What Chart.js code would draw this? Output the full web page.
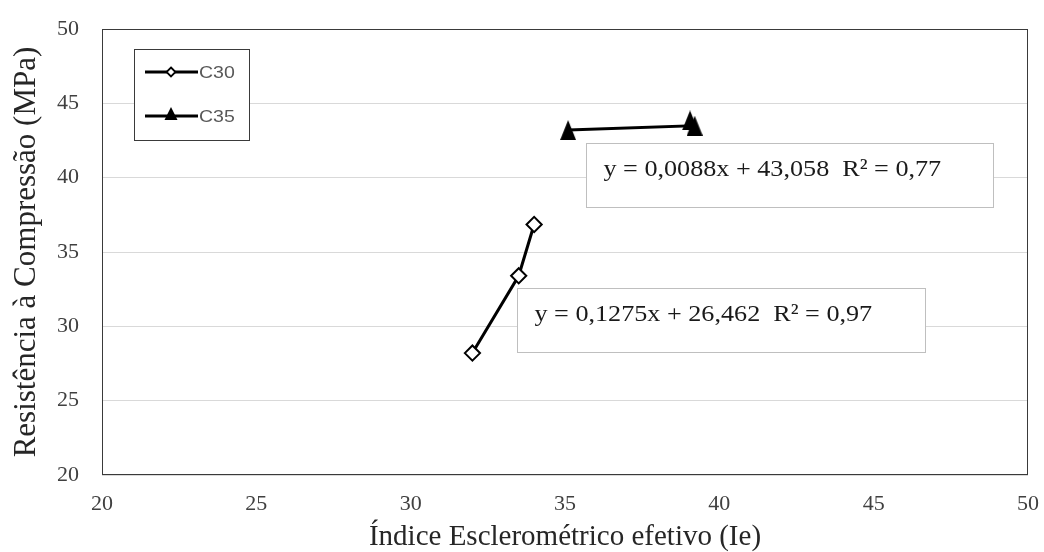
<!DOCTYPE html>
<html><head><meta charset="utf-8">
<script src="https://cdn.jsdelivr.net/npm/chart.js@4/dist/chart.umd.min.js"></script>
<style>html,body{margin:0;padding:0;background:#fff}</style>
</head><body>
<canvas id="c" width="1044" height="552"></canvas>
<script>
// ---- data ----
const seriesNames = ['C30', 'C35'];
const c30X = [32.0, 33.5, 34.0];
const c30Y = [28.2, 33.4, 36.85];
const c35X = [35.1, 39.2, 39.05];
const c35Y = [43.2, 43.5, 43.85];
const xTicks = [20, 25, 30, 35, 40, 45, 50];
const yTicks = [20, 25, 30, 35, 40, 45, 50];
const trendLabels = ['y = 0,0088x + 43,058  R² = 0,77', 'y = 0,1275x + 26,462  R² = 0,97'];
const xTitle = 'Índice Esclerométrico efetivo (Ie)';
const yTitle = 'Resistência à Compressão (MPa)';

// ---- layout of the text boxes (data coordinates) ----
const annotationBoxes = [
  {x1: 35.68, x2: 48.86, y1: 42.32, y2: 38.01, text: trendLabels[0]},
  {x1: 33.44, x2: 46.66, y1: 32.56, y2: 28.25, text: trendLabels[1]}
];

const SERIF = '"Liberation Serif", "Times New Roman", serif';
const SANS = '"Liberation Sans", Arial, sans-serif';

function makeTriangle(w, h) {
  const cv = document.createElement('canvas');
  cv.width = w; cv.height = h;
  const g = cv.getContext('2d');
  g.fillStyle = '#000';
  g.beginPath();
  g.moveTo(w / 2, 0); g.lineTo(w, h); g.lineTo(0, h); g.closePath();
  g.fill();
  return cv;
}
const triBig = makeTriangle(16, 20);

const frame = {
  id: 'frame',
  beforeDatasetsDraw(chart) {
    const {ctx, chartArea: a} = chart;
    ctx.save();
    ctx.strokeStyle = '#3a3a3a';
    ctx.lineWidth = 1;
    ctx.strokeRect(Math.round(a.left) + 0.5, Math.round(a.top) + 0.5,
      Math.round(a.right - a.left) - 1, Math.round(a.bottom - a.top) - 1);
    ctx.restore();
  }
};

const boxes = {
  id: 'boxes',
  afterDatasetsDraw(chart) {
    const {ctx, scales: {x, y}} = chart;
    ctx.save();
    annotationBoxes.forEach(b => {
      const l = Math.round(x.getPixelForValue(b.x1)) + 0.5;
      const r = Math.round(x.getPixelForValue(b.x2)) + 0.5;
      const t = Math.round(y.getPixelForValue(b.y1)) + 0.5;
      const bt = Math.round(y.getPixelForValue(b.y2)) + 0.5;
      ctx.fillStyle = '#fff';
      ctx.fillRect(l, t, r - l, bt - t);
      ctx.strokeStyle = '#bfbfbf';
      ctx.lineWidth = 1;
      ctx.strokeRect(l, t, r - l, bt - t);
      ctx.save();
      ctx.translate(l + 17, t + 32);
      ctx.scale(1.09, 1);
      ctx.fillStyle = '#1a1a1a';
      ctx.font = '24px ' + SERIF;
      ctx.textBaseline = 'alphabetic';
      ctx.textAlign = 'left';
      ctx.fillText(b.text, 0, 0);
      ctx.restore();
    });
    ctx.restore();
  }
};

const legendBox = {
  id: 'legendBox',
  afterDraw(chart) {
    const {ctx} = chart;
    ctx.save();
    ctx.fillStyle = '#fff';
    ctx.fillRect(134.5, 49.5, 115, 91);
    ctx.strokeStyle = '#3a3a3a';
    ctx.lineWidth = 1;
    ctx.strokeRect(134.5, 49.5, 115, 91);
    const rows = [72, 116];
    chart.data.datasets.forEach((ds, i) => {
      const yy = rows[i];
      ctx.strokeStyle = '#000';
      ctx.lineWidth = 3;
      ctx.beginPath(); ctx.moveTo(145, yy); ctx.lineTo(198, yy); ctx.stroke();
      if (i === 0) {
        ctx.fillStyle = '#fff'; ctx.lineWidth = 1.8;
        ctx.beginPath();
        ctx.moveTo(171, yy - 4.5); ctx.lineTo(175.5, yy); ctx.lineTo(171, yy + 4.5); ctx.lineTo(166.5, yy);
        ctx.closePath(); ctx.fill(); ctx.stroke();
      } else {
        ctx.fillStyle = '#000';
        ctx.beginPath();
        ctx.moveTo(171, yy - 9); ctx.lineTo(177.5, yy + 4); ctx.lineTo(164.5, yy + 4);
        ctx.closePath(); ctx.fill();
      }
      ctx.save();
      ctx.translate(199, yy + 6);
      ctx.scale(1.15, 1);
      ctx.fillStyle = '#595959';
      ctx.font = '17px ' + SANS;
      ctx.textBaseline = 'alphabetic';
      ctx.textAlign = 'left';
      ctx.fillText(ds.label, 0, 0);
      ctx.restore();
    });
    ctx.restore();
  }
};

new Chart(document.getElementById('c'), {
  type: 'scatter',
  data: {
    datasets: [
      {
        label: seriesNames[0],
        data: c30X.map((v, i) => ({x: v, y: c30Y[i]})),
        showLine: true,
        borderColor: '#000',
        borderWidth: 3,
        pointStyle: 'rectRot',
        pointRadius: 7.6,
        pointBackgroundColor: '#fff',
        pointBorderColor: '#000',
        pointBorderWidth: 2
      },
      {
        label: seriesNames[1],
        data: c35X.map((v, i) => ({x: v, y: c35Y[i]})),
        showLine: true,
        borderColor: '#000',
        borderWidth: 3,
        pointStyle: triBig,
        pointRadius: 10,
        pointBackgroundColor: '#000',
        pointBorderColor: '#000',
        pointBorderWidth: 0
      }
    ]
  },
  options: {
    responsive: false,
    animation: false,
    devicePixelRatio: 1,
    layout: {padding: {left: 0, top: 29, right: 16, bottom: 0}},
    plugins: {legend: {display: false}, tooltip: {enabled: false}},
    scales: {
      x: {
        type: 'linear', min: xTicks[0], max: xTicks[xTicks.length - 1],
        afterBuildTicks: s => { s.ticks = xTicks.map(v => ({value: v})); },
        afterFit: s => { s.height = 77; s.paddingLeft = 0; s.paddingRight = 0; },
        grid: {display: false, drawTicks: false},
        border: {display: false},
        ticks: {font: {family: SERIF, size: 22}, color: '#404040', padding: 16, maxRotation: 0},
        title: {display: true, text: xTitle, font: {family: SERIF, size: 29, lineHeight: 1}, color: '#262626', padding: {top: 0, bottom: 0}}
      },
      y: {
        type: 'linear', min: yTicks[0], max: yTicks[yTicks.length - 1],
        afterBuildTicks: s => { s.ticks = yTicks.map(v => ({value: v})); },
        afterFit: s => { s.width = 102; s.paddingTop = 0; s.paddingBottom = 0; },
        grid: {color: '#d9d9d9', lineWidth: 1, drawTicks: false},
        border: {display: false},
        ticks: {font: {family: SERIF, size: 22}, color: '#404040', padding: 23},
        title: {display: true, text: yTitle, font: {family: SERIF, size: 31, lineHeight: 1}, color: '#262626', padding: {top: 11.5, bottom: 0}}
      }
    }
  },
  plugins: [frame, boxes, legendBox]
});
</script>
</body></html>
